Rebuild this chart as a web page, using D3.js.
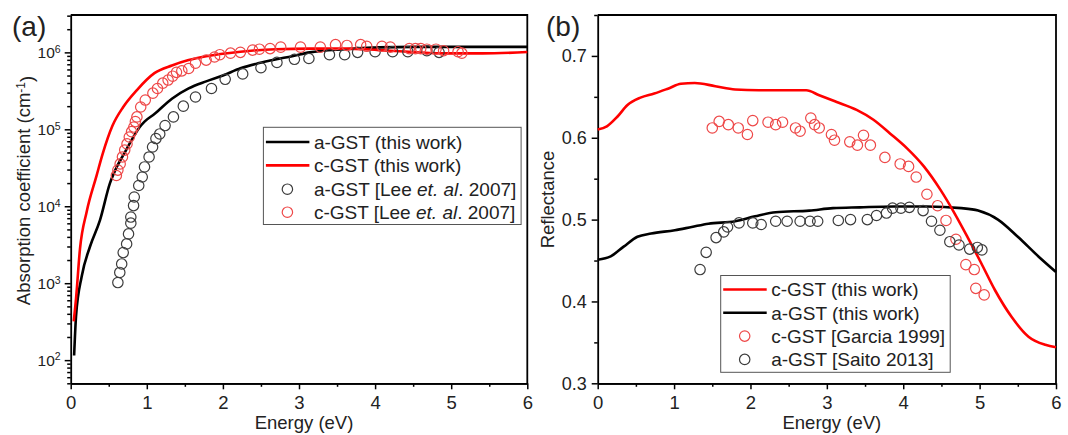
<!DOCTYPE html>
<html lang="en">
<head>
<meta charset="utf-8">
<script src="https://cdn.jsdelivr.net/npm/d3@7/dist/d3.min.js"></script>
<style>
  body { margin: 0; background: #fff; }
  text { font-family: "Liberation Sans", Arial, sans-serif; fill: #222; }
</style>
</head>
<body>
<div id="chart"></div>
<script>
// ---- panel (a): absorption coefficient, cm^-1 ----
var aLineE   = [0.045, 0.07, 0.145, 0.254, 0.385, 0.516, 0.6, 0.7, 0.8, 0.9, 0.97, 1.1, 1.33, 1.55, 1.78, 2.0, 2.23, 2.46, 2.69, 2.91, 3.14, 3.6, 4.05, 4.5, 6.0];
var aLineVal = [115, 370, 1230, 3000, 6600, 20000, 31600, 47900, 72400, 105000, 126000, 158000, 250000, 340000, 420000, 500000, 620000, 720000, 810000, 890000, 1000000, 1100000, 1160000, 1180000, 1180000];

var cLineE   = [0.04, 0.07, 0.122, 0.21, 0.34, 0.42, 0.55, 0.69, 0.87, 1.1, 1.33, 1.55, 1.78, 2.23, 2.69, 3.14, 3.6, 4.05, 4.5, 4.96, 5.41, 6.0];
var cLineVal = [320, 630, 2800, 8500, 25000, 48000, 112000, 195000, 324000, 537000, 676000, 794000, 891000, 1020000, 1100000, 1120000, 1120000, 1070000, 1010000, 970000, 970000, 1010000];

var aLeeE   = [0.62, 0.645, 0.67, 0.69, 0.735, 0.76, 0.79, 0.79, 0.826, 0.835, 0.894, 0.94, 0.97, 1.03, 1.076, 1.12, 1.17, 1.24, 1.35, 1.48, 1.64, 1.85, 2.03, 2.26, 2.5, 2.71, 2.94, 3.13, 3.4, 3.6, 3.77, 4.0, 4.23, 4.43, 4.68, 4.84];
var aLeeVal = [1020, 1380, 1780, 2500, 3240, 4370, 6030, 7240, 10200, 13200, 18600, 24000, 32400, 43700, 58900, 75900, 87100, 112000, 145000, 200000, 263000, 339000, 447000, 525000, 631000, 741000, 813000, 832000, 933000, 933000, 1000000, 1020000, 1020000, 1020000, 1050000, 1000000];

var cLeeE   = [0.6, 0.62, 0.65, 0.68, 0.71, 0.74, 0.77, 0.8, 0.83, 0.85, 0.87, 0.92, 0.98, 1.08, 1.14, 1.21, 1.28, 1.34, 1.39, 1.46, 1.55, 1.64, 1.78, 1.89, 1.96, 2.1, 2.23, 2.39, 2.48, 2.62, 2.76, 3.02, 3.28, 3.48, 3.63, 3.81, 3.89, 4.09, 4.2, 4.45, 4.53, 4.6, 4.68, 4.8, 4.9, 5.09, 5.14];
var cLeeVal = [25100, 29500, 35500, 43700, 53700, 64600, 79400, 93300, 107000, 126000, 145000, 195000, 240000, 295000, 339000, 398000, 437000, 490000, 550000, 575000, 617000, 724000, 794000, 871000, 933000, 977000, 1000000, 1070000, 1100000, 1120000, 1170000, 1170000, 1170000, 1260000, 1230000, 1260000, 1200000, 1200000, 1170000, 1120000, 1120000, 1120000, 1100000, 1100000, 1050000, 1020000, 977000];

// ---- panel (b): reflectance ----
var cRefE   = [0, 0.12, 0.26, 0.39, 0.56, 0.74, 0.92, 1.09, 1.27, 1.54, 1.8, 2.11, 2.42, 2.73, 2.9, 3.12, 3.39, 3.61, 3.83, 4.05, 4.27, 4.49, 4.67, 4.84, 5.02, 5.2, 5.42, 5.64, 5.86, 6.0];
var cRefVal = [0.610, 0.614, 0.626, 0.640, 0.649, 0.654, 0.660, 0.666, 0.667, 0.663, 0.659, 0.658, 0.658, 0.658, 0.652, 0.644, 0.634, 0.622, 0.605, 0.587, 0.565, 0.536, 0.508, 0.479, 0.447, 0.414, 0.381, 0.357, 0.347, 0.344];

var aRefE   = [0, 0.17, 0.34, 0.52, 0.7, 1.01, 1.23, 1.45, 1.8, 2.06, 2.33, 2.77, 3.08, 3.43, 3.87, 4.31, 4.76, 4.98, 5.24, 5.5, 5.77, 6.0];
var aRefVal = [0.451, 0.455, 0.467, 0.479, 0.483, 0.487, 0.491, 0.495, 0.498, 0.504, 0.509, 0.511, 0.514, 0.515, 0.516, 0.516, 0.514, 0.511, 0.500, 0.479, 0.455, 0.436];

var garciaE   = [1.5, 1.59, 1.71, 1.84, 1.96, 2.03, 2.23, 2.33, 2.42, 2.59, 2.65, 2.79, 2.84, 2.9, 3.06, 3.1, 3.3, 3.4, 3.48, 3.57, 3.76, 3.96, 4.07, 4.17, 4.31, 4.45, 4.56, 4.69, 4.82, 4.93, 4.95, 5.06];
var garciaVal = [0.612, 0.620, 0.616, 0.612, 0.604, 0.621, 0.619, 0.616, 0.619, 0.612, 0.608, 0.624, 0.616, 0.612, 0.604, 0.597, 0.595, 0.591, 0.603, 0.591, 0.576, 0.568, 0.565, 0.552, 0.531, 0.517, 0.499, 0.476, 0.445, 0.439, 0.416, 0.408];

var saitoE   = [1.34, 1.42, 1.55, 1.65, 1.7, 1.85, 2.03, 2.14, 2.33, 2.48, 2.65, 2.78, 2.88, 3.15, 3.31, 3.53, 3.65, 3.78, 3.86, 3.97, 4.08, 4.26, 4.37, 4.48, 4.61, 4.73, 4.87, 4.97, 5.03];
var saitoVal = [0.439, 0.460, 0.478, 0.485, 0.491, 0.496, 0.496, 0.494, 0.498, 0.498, 0.498, 0.498, 0.498, 0.499, 0.500, 0.500, 0.505, 0.508, 0.514, 0.514, 0.515, 0.511, 0.498, 0.487, 0.473, 0.469, 0.464, 0.466, 0.463];

var energyTicks = [0, 1, 2, 3, 4, 5, 6];
var energyMinor = [0.5, 1.5, 2.5, 3.5, 4.5, 5.5];
var alphaTicks = [1e2, 1e3, 1e4, 1e5, 1e6];
var reflTicks = [0.3, 0.4, 0.5, 0.6, 0.7];
var reflMinor = [0.35, 0.45, 0.55, 0.65, 0.75];

var RED = "#ff0000", RED_PT = "#ee4848", BLACK = "#000", BLACK_PT = "#3c3c3c";

var svg = d3.select("#chart").append("svg")
  .attr("width", 1068)
  .attr("height", 435);

// scales
var plotTop = 15, plotBottom = 383.3;
var xA = d3.scaleLinear().domain([0, 6]).range([70.7, 527.3]);
var yA = d3.scaleLog().domain([50, 3.06e6]).range([plotBottom, plotTop]);
var xB = d3.scaleLinear().domain([0, 6]).range([597.7, 1056]);
var yB = d3.scaleLinear().domain([0.3, 0.75]).range([plotBottom, plotTop]);

function zip(xs, ys) {
  return xs.map(function(x, i) { return [x, ys[i]]; });
}

function styleAxis(g, size) {
  g.selectAll("path").style("stroke", "#000").style("stroke-width", 1.8);
  g.selectAll("line").style("stroke", "#000").style("stroke-width", 1.5);
  g.selectAll("text").style("font-size", size + "px").style("fill", "#222")
    .style("font-family", '"Liberation Sans", Arial, sans-serif');
}

function frame(x) {
  svg.append("path")
    .attr("d", "M" + x.range()[0] + "," + plotTop + "H" + x.range()[1] + "V" + plotBottom)
    .style("fill", "none").style("stroke", "#000").style("stroke-width", 1.8);
}

// ---------- panel (a) ----------
frame(xA);

var gxA = svg.append("g").attr("transform", "translate(0," + plotBottom + ")");
gxA.call(d3.axisBottom(xA).tickValues(energyTicks).tickFormat(d3.format("d")).tickSize(6).tickSizeOuter(0).tickPadding(7));
styleAxis(gxA, 18.5);
var gxAm = svg.append("g").attr("transform", "translate(0," + plotBottom + ")");
gxAm.call(d3.axisBottom(xA).tickValues(energyMinor).tickFormat("").tickSize(3.5).tickSizeOuter(0));
styleAxis(gxAm, 18);

var alphaMinor = [];
for (var k = 1; k <= 6; k++) {
  for (var m = 2; m <= 9; m++) {
    var v = m * Math.pow(10, k);
    if (v >= 50 && v <= 3.06e6) alphaMinor.push(v);
  }
}
var gyA = svg.append("g").attr("transform", "translate(" + xA.range()[0] + ",0)");
gyA.call(d3.axisLeft(yA).tickValues(alphaTicks).tickFormat("").tickSize(6).tickSizeOuter(0));
styleAxis(gyA, 15);
gyA.selectAll(".tick").append("text")
  .attr("x", -10).attr("dy", "0.36em")
  .style("text-anchor", "end").style("font-size", "15.5px").style("fill", "#222")
  .each(function(d) {
    var t = d3.select(this);
    t.append("tspan").text("10");
    t.append("tspan").attr("dy", "-0.55em").style("font-size", "10.5px").text(Math.round(Math.log10(d)));
  });
var gyAm = svg.append("g").attr("transform", "translate(" + xA.range()[0] + ",0)");
gyAm.call(d3.axisLeft(yA).tickValues(alphaMinor).tickFormat("").tickSize(3.5).tickSizeOuter(0));
styleAxis(gyAm, 15);
gyAm.select("path").remove();

var lineA = d3.line()
  .x(function(d) { return xA(d[0]); })
  .y(function(d) { return yA(d[1]); })
  .curve(d3.curveMonotoneX);

svg.append("path").datum(zip(aLineE, aLineVal)).attr("d", lineA)
  .style("fill", "none").style("stroke", BLACK).style("stroke-width", 2.6);
svg.append("path").datum(zip(cLineE, cLineVal)).attr("d", lineA)
  .style("fill", "none").style("stroke", RED).style("stroke-width", 2.6);

svg.append("g").selectAll("circle").data(zip(aLeeE, aLeeVal)).enter().append("circle")
  .attr("cx", function(d) { return xA(d[0]); })
  .attr("cy", function(d) { return yA(d[1]); })
  .attr("r", 5.2)
  .style("fill", "none").style("stroke", BLACK_PT).style("stroke-width", 1.2);
svg.append("g").selectAll("circle").data(zip(cLeeE, cLeeVal)).enter().append("circle")
  .attr("cx", function(d) { return xA(d[0]); })
  .attr("cy", function(d) { return yA(d[1]); })
  .attr("r", 5.2)
  .style("fill", "none").style("stroke", RED_PT).style("stroke-width", 1.2);

// titles (a)
svg.append("text").attr("x", 12).attr("y", 36).style("font-size", "28px").text("(a)");
svg.append("text").attr("x", d3.mean(xA.range()) + 5).attr("y", 429)
  .style("text-anchor", "middle").style("font-size", "18.5px").text("Energy (eV)");
var ytA = svg.append("text")
  .attr("transform", "translate(30,190.5) rotate(-90)")
  .style("text-anchor", "middle").style("font-size", "18.5px");
ytA.append("tspan").text("Absorption coefficient (cm");
ytA.append("tspan").attr("dy", "-0.45em").style("font-size", "12px").text("-1");
ytA.append("tspan").attr("dy", "0.45em").text(")");

// ---------- panel (b) ----------
frame(xB);

var gxB = svg.append("g").attr("transform", "translate(0," + plotBottom + ")");
gxB.call(d3.axisBottom(xB).tickValues(energyTicks).tickFormat(d3.format("d")).tickSize(6).tickSizeOuter(0).tickPadding(7));
styleAxis(gxB, 18.5);
var gxBm = svg.append("g").attr("transform", "translate(0," + plotBottom + ")");
gxBm.call(d3.axisBottom(xB).tickValues(energyMinor).tickFormat("").tickSize(3.5).tickSizeOuter(0));
styleAxis(gxBm, 18);

var gyB = svg.append("g").attr("transform", "translate(" + xB.range()[0] + ",0)");
gyB.call(d3.axisLeft(yB).tickValues(reflTicks).tickFormat(d3.format(".1f")).tickSize(6).tickSizeOuter(0).tickPadding(5));
styleAxis(gyB, 18);
var gyBm = svg.append("g").attr("transform", "translate(" + xB.range()[0] + ",0)");
gyBm.call(d3.axisLeft(yB).tickValues(reflMinor).tickFormat("").tickSize(3.5).tickSizeOuter(0));
styleAxis(gyBm, 18);
gyBm.select("path").remove();

var lineB = d3.line()
  .x(function(d) { return xB(d[0]); })
  .y(function(d) { return yB(d[1]); })
  .curve(d3.curveMonotoneX);

svg.append("path").datum(zip(aRefE, aRefVal)).attr("d", lineB)
  .style("fill", "none").style("stroke", BLACK).style("stroke-width", 2.6);
svg.append("path").datum(zip(cRefE, cRefVal)).attr("d", lineB)
  .style("fill", "none").style("stroke", RED).style("stroke-width", 2.6);

svg.append("g").selectAll("circle").data(zip(garciaE, garciaVal)).enter().append("circle")
  .attr("cx", function(d) { return xB(d[0]); })
  .attr("cy", function(d) { return yB(d[1]); })
  .attr("r", 5.2)
  .style("fill", "none").style("stroke", RED_PT).style("stroke-width", 1.2);
svg.append("g").selectAll("circle").data(zip(saitoE, saitoVal)).enter().append("circle")
  .attr("cx", function(d) { return xB(d[0]); })
  .attr("cy", function(d) { return yB(d[1]); })
  .attr("r", 5.2)
  .style("fill", "none").style("stroke", BLACK_PT).style("stroke-width", 1.2);

svg.append("text").attr("x", 546).attr("y", 36).style("font-size", "28px").text("(b)");
svg.append("text").attr("x", d3.mean(xB.range()) + 5).attr("y", 429)
  .style("text-anchor", "middle").style("font-size", "18.5px").text("Energy (eV)");
svg.append("text")
  .attr("transform", "translate(554,199.5) rotate(-90)")
  .style("text-anchor", "middle").style("font-size", "18.5px").text("Reflectance");

// ---------- legends ----------
function legend(x, y, w, h, rowY, entries) {
  var g = svg.append("g");
  g.append("rect").attr("x", x).attr("y", y).attr("width", w).attr("height", h)
    .style("fill", "#fff").style("stroke", "#555").style("stroke-width", 1);
  entries.forEach(function(e, i) {
    var cy = rowY[i];
    if (e.type === "line") {
      g.append("line").attr("x1", x + 2.5).attr("x2", x + 46).attr("y1", cy).attr("y2", cy)
        .style("stroke", e.color).style("stroke-width", 2.6);
    } else {
      g.append("circle").attr("cx", x + 24).attr("cy", cy).attr("r", 5.2)
        .style("fill", "none").style("stroke", e.color).style("stroke-width", 1.2);
    }
    var t = g.append("text").attr("x", x + 50.5).attr("y", cy).attr("dy", "0.36em")
      .style("font-size", "19px");
    e.parts.forEach(function(p) {
      t.append("tspan").style("font-style", p[1] ? "italic" : "normal").text(p[0]);
    });
  });
}

legend(263.4, 127.3, 257.7, 97.2, [142, 165.4, 189.2, 212.2], [
  { type: "line", color: BLACK, parts: [["a-GST (this work)"]] },
  { type: "line", color: RED, parts: [["c-GST (this work)"]] },
  { type: "circle", color: BLACK_PT, parts: [["a-GST [Lee "], ["et.", true], [" "], ["al", true], [". 2007]"]] },
  { type: "circle", color: RED_PT, parts: [["c-GST [Lee "], ["et.", true], [" "], ["al", true], [". 2007]"]] }
]);

legend(720.7, 275.5, 229.5, 96.8, [289.5, 312.8, 336.1, 359.4], [
  { type: "line", color: RED, parts: [["c-GST (this work)"]] },
  { type: "line", color: BLACK, parts: [["a-GST (this work)"]] },
  { type: "circle", color: RED_PT, parts: [["c-GST [Garcia 1999]"]] },
  { type: "circle", color: BLACK_PT, parts: [["a-GST [Saito 2013]"]] }
]);
</script>
</body>
</html>
